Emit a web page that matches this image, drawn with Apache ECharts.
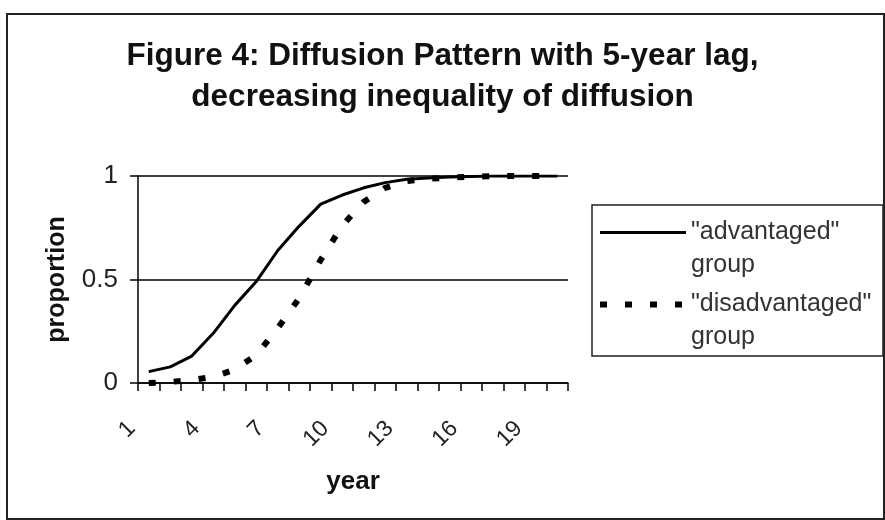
<!doctype html>
<html>
<head>
<meta charset="UTF-8">
<title>Figure 4</title>
<script src="https://cdn.jsdelivr.net/npm/echarts@6/dist/echarts.min.js"></script>
<style>
  html, body { margin: 0; padding: 0; background: #fff; }
  #main { width: 885px; height: 520px; }
</style>
</head>
<body>
<div id="main"></div>
<script type="text/javascript">
// years on the x axis
var years = ['1','2','3','4','5','6','7','8','9','10','11','12','13','14','15','16','17','18','19','20'];
// proportion of each group that has adopted
var advantaged = [0.055, 0.078, 0.13, 0.24, 0.375, 0.49, 0.64, 0.758, 0.864, 0.908,
                  0.943, 0.968, 0.984, 0.99, 0.995, 0.998, 1, 1, 1, 1];
var disadvantaged = [0.0, 0.005, 0.015, 0.03, 0.065, 0.135, 0.265, 0.41, 0.595, 0.76,
                     0.875, 0.943, 0.975, 0.987, 0.992, 0.996, 0.999, 1, 1, 1];
var seriesNames = ['"advantaged"\ngroup', '"disadvantaged"\ngroup'];
var yTicks = [0, 0.5, 1];

var font = '"Liberation Sans", Arial, sans-serif';
var solidLine = { color: '#000', width: 3 };
var dashLine = { color: '#000', width: 6, type: [7, 18] };

var myChart = echarts.init(document.getElementById('main'));

var option = {
    backgroundColor: '#fff',
    animation: false,
    title: {
        text: 'Figure 4: Diffusion Pattern with 5-year lag,\ndecreasing inequality of diffusion',
        left: 'center',
        top: 31,
        textStyle: {
            fontFamily: font,
            fontWeight: 'bold',
            fontSize: 31.5,
            lineHeight: 41,
            color: '#111'
        }
    },
    legend: {
        orient: 'vertical',
        left: 597,
        top: 183,
        padding: 0,
        itemGap: -27,
        itemWidth: 86,
        itemHeight: 14,
        data: [
            { name: seriesNames[0], lineStyle: solidLine },
            { name: seriesNames[1], lineStyle: dashLine }
        ],
        // blank first line so the key sits beside the first line of text
        formatter: function (name) { return '\n' + name; },
        itemStyle: { opacity: 0 },
        textStyle: {
            fontFamily: font,
            fontSize: 25,
            lineHeight: 33,
            color: '#333'
        }
    },
    grid: {
        left: 138,
        right: 317,
        top: 176,
        bottom: 137,
        containLabel: false,
        outerBoundsMode: 'none'
    },
    xAxis: {
        type: 'category',
        data: years,
        boundaryGap: true,
        name: 'year',
        nameLocation: 'middle',
        nameGap: 86,
        nameTextStyle: { fontFamily: font, fontWeight: 'bold', fontSize: 26, color: '#111' },
        axisLine: { lineStyle: { color: '#000', width: 1.5 } },
        axisTick: { show: true, interval: 0, length: 8, lineStyle: { color: '#000', width: 1.5 } },
        axisLabel: {
            interval: 2,
            rotate: 45,
            margin: 25,
            padding: [0, 24, 0, 0],
            fontFamily: font,
            fontSize: 23,
            color: '#222'
        },
        splitLine: { show: false }
    },
    yAxis: {
        type: 'value',
        min: yTicks[0],
        max: yTicks[yTicks.length - 1],
        interval: 0.5,
        name: 'proportion',
        nameLocation: 'middle',
        nameGap: 68,
        nameTextStyle: { fontFamily: font, fontWeight: 'bold', fontSize: 25, color: '#111' },
        axisLine: { show: true, lineStyle: { color: '#000', width: 1.5 } },
        axisTick: { show: true, length: 8, lineStyle: { color: '#000', width: 1.5 } },
        axisLabel: { margin: 20, fontFamily: font, fontSize: 26, color: '#222' },
        splitLine: { show: true, lineStyle: { color: '#000', width: 1.5 } }
    },
    series: [
        {
            name: seriesNames[0],
            type: 'line',
            data: advantaged,
            symbol: 'none',
            smooth: false,
            lineStyle: solidLine,
            itemStyle: { color: '#000' }
        },
        {
            name: seriesNames[1],
            type: 'line',
            data: disadvantaged,
            symbol: 'none',
            smooth: false,
            lineStyle: dashLine,
            itemStyle: { color: '#000' }
        }
    ],
    graphic: [
        {   // outer chart frame
            type: 'rect',
            shape: { x: 7, y: 14, width: 877, height: 505 },
            style: { fill: null, stroke: '#222', lineWidth: 2 },
            silent: true
        },
        {   // legend frame
            type: 'rect',
            shape: { x: 592, y: 205, width: 291, height: 151 },
            style: { fill: null, stroke: '#222', lineWidth: 1.5 },
            silent: true
        }
    ]
};

myChart.setOption(option);
</script>
</body>
</html>
